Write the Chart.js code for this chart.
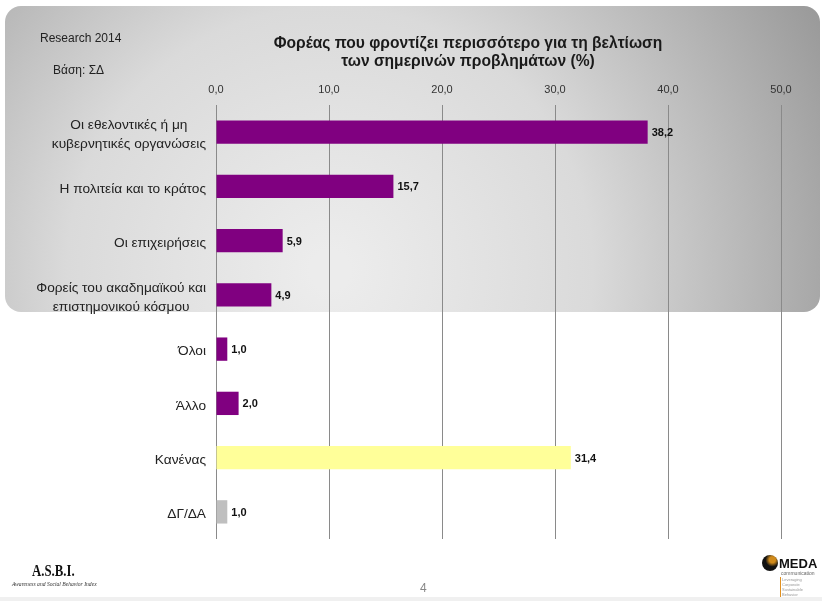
<!DOCTYPE html>
<html>
<head>
<meta charset="utf-8">
<script src="https://cdn.jsdelivr.net/npm/chart.js@4"></script>
<style>
  html, body { margin: 0; padding: 0; background: #fff; }
  #wrap { position: relative; width: 822px; height: 601px; overflow: hidden; font-family: "Liberation Sans", "Noto Sans", sans-serif; }
  canvas { position: absolute; left: 0; top: 0; }
  .txt { position: absolute; color: #222; white-space: nowrap; }
  #title { left: 200px; width: 536px; top: 34px; text-align: center; font-weight: bold; font-size: 15.6px; line-height: 18px; color: #1a1a1a; }
  #research { left: 40px; top: 31px; font-size: 12px; }
  #base { left: 53px; top: 63px; font-size: 12px; }
  #page { left: 420px; top: 581px; font-size: 12px; color: #888; }
  #asbi { left: 32px; top: 562px; font-family: "Liberation Serif", "DejaVu Serif", serif; font-weight: bold; font-size: 16px; color: #111; transform: scaleX(0.8); transform-origin: left top; }
  #asbisub { left: 12px; top: 581px; font-family: "Liberation Serif", serif; font-style: italic; font-size: 5.6px; color: #333; }
  #meda { left: 779px; top: 556px; font-weight: bold; font-size: 13px; color: #111; }
  #medasub { left: 781px; top: 570px; font-size: 5px; color: #666; }
  #medasub2 { left: 780px; top: 577px; font-size: 4px; line-height: 5px; color: #999; border-left: 1px solid #e09020; padding-left: 1px; }
  #dot { position: absolute; left: 762px; top: 555px; width: 16px; height: 16px; border-radius: 50%; background: radial-gradient(circle at 65% 30%, #d08a1a 0 20%, #111 45%); }
</style>
</head>
<body>
<div id="wrap">
  <canvas id="myChart" width="822" height="601"></canvas>
  <div class="txt" id="title">Φορέας που φροντίζει περισσότερο για τη βελτίωση<br>των σημερινών προβλημάτων (%)</div>
  <div class="txt" id="research">Research 2014</div>
  <div class="txt" id="base">Βάση: ΣΔ</div>
  <div class="txt" id="page">4</div>
  <div class="txt" id="asbi">A.S.B.I.</div>
  <div class="txt" id="asbisub">Awareness and Social Behavior Index</div>
  <div id="dot"></div>
  <div class="txt" id="meda">MEDA</div>
  <div class="txt" id="medasub">communication</div>
  <div class="txt" id="medasub2">Leveraging<br>Corporate<br>Sustainable<br>Behavior</div>
</div>
<script>
const categories = [
    ['Οι εθελοντικές ή μη', 'κυβερνητικές οργανώσεις'],
    'Η πολιτεία και το κράτος',
    'Οι επιχειρήσεις',
    ['Φορείς του ακαδημαϊκού και', 'επιστημονικού κόσμου'],
    'Όλοι',
    'Άλλο',
    'Κανένας',
    'ΔΓ/ΔΑ'
];
const values = [38.2, 15.7, 5.9, 4.9, 1.0, 2.0, 31.4, 1.0];
const barColors = ['#800080', '#800080', '#800080', '#800080', '#800080', '#800080', '#FFFF99', '#BFBFBF'];
const tickValues = [0, 10, 20, 30, 40, 50];

const fmt = v => v.toFixed(1).replace('.', ',');

// fondo gris con esquinas redondeadas
const panelPlugin = {
    id: 'panel',
    beforeDraw(chart) {
        const ctx = chart.ctx;
        ctx.save();
        ctx.fillStyle = '#fff';
        ctx.fillRect(0, 0, chart.width, chart.height);
        const g = ctx.createRadialGradient(330, 270, 20, 330, 270, 560);
        g.addColorStop(0, '#ececec');
        g.addColorStop(0.45, '#dadada');
        g.addColorStop(1, '#989898');
        ctx.fillStyle = g;
        ctx.beginPath();
        ctx.roundRect(5, 6, 815, 306, 16);
        ctx.fill();
        ctx.fillStyle = '#f0f0f0';
        ctx.fillRect(0, 597, chart.width, 4);
        ctx.restore();
    }
};

// etiquetas de categoría: bloque alineado a la derecha, líneas centradas entre sí
const categoryLabels = {
    id: 'categoryLabels',
    afterDraw(chart) {
        const ctx = chart.ctx;
        const yScale = chart.scales.y;
        const right = chart.chartArea.left - 10;
        const lineH = 19;
        ctx.save();
        ctx.font = '13.7px "Liberation Sans", sans-serif';
        ctx.fillStyle = '#222';
        ctx.textBaseline = 'middle';
        ctx.textAlign = 'center';
        categories.forEach((lab, i) => {
            const lines = Array.isArray(lab) ? lab : [lab];
            const w = Math.max(...lines.map(l => ctx.measureText(l).width));
            const cx = right - w / 2;
            const y0 = yScale.getPixelForTick(i) - (lines.length - 1) * lineH / 2 + 2.5;
            lines.forEach((l, j) => ctx.fillText(l, cx, y0 + j * lineH));
        });
        ctx.restore();
    }
};

// etiquetas de valor al final de cada barra
const valueLabels = {
    id: 'valueLabels',
    afterDatasetsDraw(chart) {
        const ctx = chart.ctx;
        const meta = chart.getDatasetMeta(0);
        ctx.save();
        ctx.font = 'bold 11px "Liberation Sans", sans-serif';
        ctx.fillStyle = '#111';
        ctx.textBaseline = 'middle';
        meta.data.forEach((bar, i) => {
            ctx.fillText(fmt(values[i]), bar.x + 4, bar.y + 1);
        });
        ctx.restore();
    }
};

const barConfig = {
    type: 'bar',
    data: {
        labels: categories,
        datasets: [{
            data: values,
            backgroundColor: barColors,
            borderWidth: 0,
            categoryPercentage: 1,
            barPercentage: 0.43
        }]
    },
    options: {
        indexAxis: 'y',
        responsive: false,
        animation: false,
        layout: { padding: { top: 75, right: 41, bottom: 62, left: 0 } },
        plugins: {
            legend: { display: false },
            tooltip: { enabled: false }
        },
        scales: {
            x: {
                position: 'top',
                min: 0,
                max: 50,
                afterFit(scale) { scale.height = 30; },
                afterBuildTicks(scale) { scale.ticks = tickValues.map(v => ({ value: v })); },
                ticks: {
                    callback: v => fmt(v),
                    color: '#333',
                    padding: 8,
                    font: { family: '"Liberation Sans", sans-serif', size: 11 }
                },
                grid: { color: '#8a8a8a', lineWidth: 1, drawTicks: false },
                border: { display: false }
            },
            y: {
                afterFit(scale) { scale.width = 216; },
                ticks: { display: false },
                grid: { display: false },
                border: { display: false }
            }
        }
    },
    plugins: [panelPlugin, categoryLabels, valueLabels]
};

var barChart = new Chart(document.getElementById('myChart'), barConfig);
</script>
</body>
</html>
